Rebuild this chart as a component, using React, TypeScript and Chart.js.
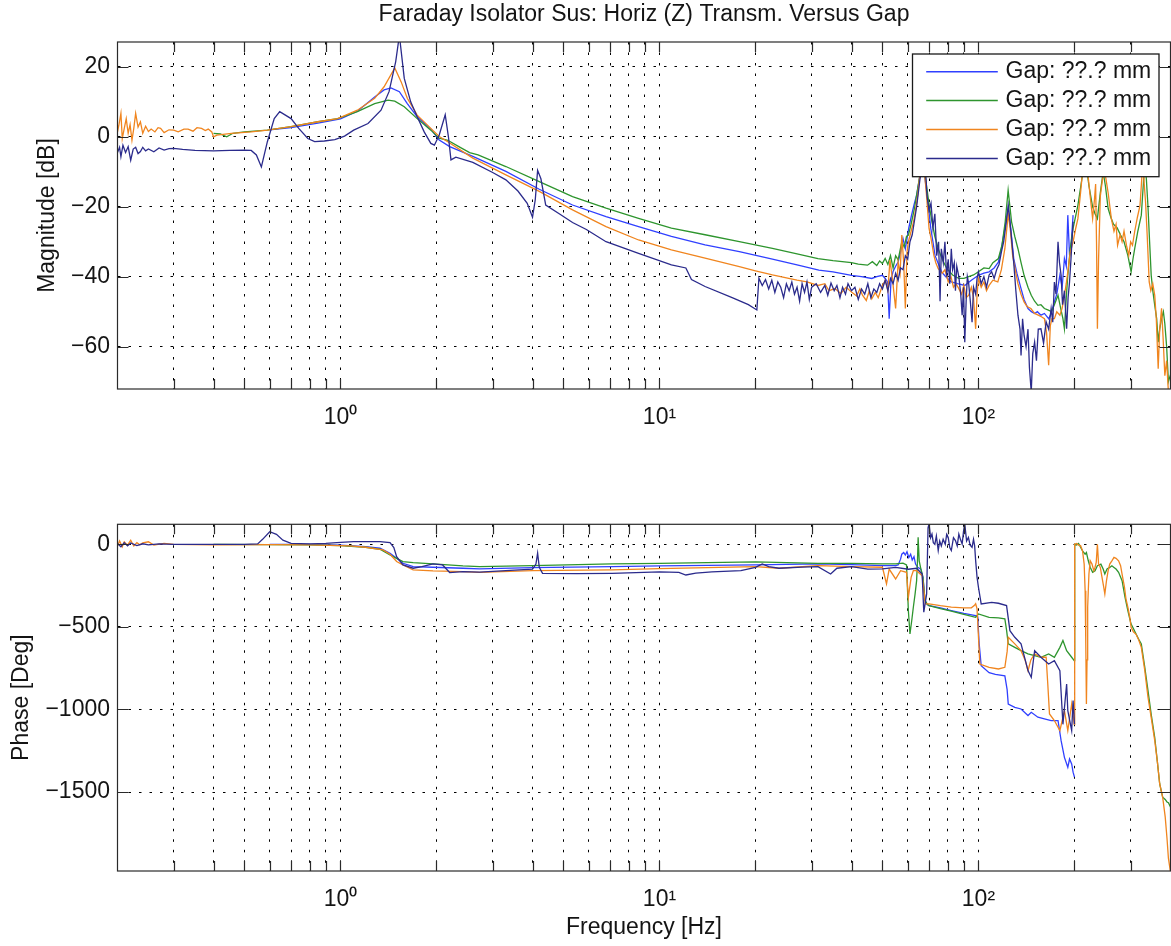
import React, { useEffect, useRef } from "react";
import { Chart, registerables } from "chart.js";

Chart.register(...registerables);

// ---------- text ----------
const TITLE = "Faraday Isolator Sus: Horiz (Z) Transm. Versus Gap";
const X_TITLE = "Frequency [Hz]";
const MAG_TITLE = "Magnitude [dB]";
const PHASE_TITLE = "Phase [Deg]";
const SERIES_LABELS = ["Gap: ??.? mm", "Gap: ??.? mm", "Gap: ??.? mm", "Gap: ??.? mm"];

// ---------- axes ----------
const X_MIN = 0.2;
const X_MAX = 400;
const X_GRID = [0.3, 0.4, 0.5, 0.6, 0.7, 0.8, 0.9, 1, 2, 3, 4, 5, 6, 7, 8, 9, 10, 20, 30, 40, 50, 60, 70, 80, 90, 100, 200, 300];
const X_TICK_LABELS: Record<string, string> = { "1": "10\u2070", "10": "10\u00b9", "100": "10\u00b2" };
const MAG_MIN = -72.1;
const MAG_MAX = 27.1;
const MAG_TICKS = [-60, -40, -20, 0, 20];
const PHASE_MIN = -1978;
const PHASE_MAX = 121;
const PHASE_TICKS = [-1500, -1000, -500, 0];

// ---------- magnitude data [Hz, dB] ----------
const MAG_BLUE: [number, number][] = [
  [0.6, 2.0], [0.7, 2.6], [0.85, 3.9], [1.0, 5.1], [1.13, 7.3], [1.28, 11.4], [1.37, 13.4], [1.44, 14.0], [1.53, 12.9], [1.62, 9.5],
  [1.74, 5.7], [1.92, 2.2], [2.04, -0.9], [2.2, -2.8], [2.6, -5.6], [3.3, -9.9], [4.2, -15.0], [5.34, -19.5], [6.8, -22.8], [8.6, -25.7],
  [10.9, -28.5], [13.9, -30.9], [17.8, -32.8], [22.6, -35.0], [27, -36.6], [31.6, -38.1], [35, -38.6], [40, -39.6], [43, -40], [46.3, -40.5],
  [48, -40], [50, -39.6], [51, -40.5], [51.9, -41.5], [52.5, -52], [53.2, -41], [54, -38.5], [55, -37], [56, -35.8], [57, -33],
  [58, -29.1], [59, -32], [59.5, -30], [60.5, -26], [61.7, -22.4], [63, -19], [64, -16.7], [65.3, -12], [66.6, -8], [67.5, -9],
  [68.2, -12.9], [69.5, -19], [70.9, -26.2], [72, -30], [73.1, -33.9], [75, -36.5], [76.6, -38.6], [79, -40], [82.2, -41.5], [86, -42],
  [90.6, -42.5], [95, -41], [100, -39.6], [104, -39], [108, -38.6], [112, -37.5], [115.5, -35.8], [118, -32], [121, -26.2], [124, -20.5],
  [126.5, -27], [129, -34.8], [132, -39], [136, -43.4], [139, -46.5], [143, -49.1], [146.5, -50], [150, -50.5], [153, -50], [157, -51],
  [161, -50.5], [166, -52], [169, -50.5], [173, -47.2], [176, -45], [180, -39.6], [183, -43], [186, -34.8], [188.5, -37], [190.6, -22.4],
  [193, -33.9], [195.5, -30], [198, -22.4],
];

const MAG_GREEN: [number, number][] = [
  [0.4, 1.0], [0.42, 0.8], [0.44, 0.0], [0.46, 1.0], [0.5, 1.4], [0.59, 1.9], [0.7, 2.9], [0.85, 4.3], [0.98, 5.2], [1.13, 7.2],
  [1.28, 9.5], [1.41, 10.5], [1.48, 10.2], [1.585, 8.6], [1.74, 5.2], [1.92, 1.9], [2.04, -0.4], [2.17, -1.0], [2.35, -2.8], [2.54, -4.5],
  [2.7, -5.2], [3.3, -8.5], [4.2, -12.8], [5.34, -17.1], [6.8, -20.4], [8.6, -23.3], [10.9, -26.1], [13.9, -28.0], [17.8, -30.0], [22.6, -31.9],
  [27, -33.5], [31.4, -34.8], [35, -35.4], [40, -36], [42, -36.4], [44.9, -36.7], [46.5, -35.7], [48, -36.8], [49, -35.5], [50, -36.2],
  [51, -34.8], [52, -36.5], [53, -34], [54, -37.5], [55, -34], [56, -35.2], [57.5, -30], [58.5, -31.5], [59.5, -28.5], [60.3, -28.1],
  [61.5, -25], [63, -20.5], [64.5, -14.8], [65.5, -11], [66.8, -8], [68, -11], [69, -15], [70.2, -20], [71.5, -24.3], [73, -28.5],
  [74.8, -32], [77, -35], [79.6, -37.7], [83, -39.5], [86.8, -40.5], [90, -40.5], [93.2, -40], [96.5, -39.5], [100, -38.6], [104, -37.5],
  [108, -37.7], [111, -36], [115.5, -34.8], [118.5, -31], [121.3, -24.3], [123.9, -15.3], [127, -24.3], [130, -28.5], [133, -32], [136, -36],
  [139, -39.6], [143, -43], [146.4, -45.3], [150, -47], [153.6, -48.2], [157, -48], [161, -49.1], [165, -49.5], [169.4, -50], [173, -48],
  [177.6, -45.3], [181, -49], [184, -52], [186, -54.9], [188.5, -46], [190.6, -39.6], [194, -32], [198, -26.2], [205, -19.6], [211, -12],
  [216, -6], [222, -14], [228, -20], [232, -22], [236, -23.4], [241, -16], [246, -10], [250, -14], [255, -20.5], [260, -23],
  [265, -25], [272, -26], [279, -28.1], [286, -30], [294, -33.9], [301, -38.6], [305, -35], [309, -31.9], [316, -27], [324, -22.4],
  [328, -15], [332, -8], [336, -12], [340, -20], [344, -30], [348, -39.6], [352, -44], [357, -48.2], [362, -52], [366, -58.7],
  [370, -55], [375, -52], [380, -50], [384, -53.5], [389, -60], [394, -70], [400, -68],
];

const MAG_ORANGE: [number, number][] = [
  [0.2, 1.4], [0.202, 3.3], [0.205, 6.7], [0.207, -0.5], [0.21, 2.4], [0.213, 5.2], [0.216, 1.0], [0.219, 3.5], [0.222, -1.0], [0.225, 2.5],
  [0.228, 6.7], [0.232, 2.8], [0.236, 4.3], [0.24, 1.0], [0.245, 3.0], [0.25, 1.5], [0.255, 2.2], [0.262, 1.4], [0.268, 2.6], [0.273, 2.4],
  [0.28, 1.2], [0.29, 2.0], [0.3, 1.9], [0.31, 1.4], [0.323, 2.2], [0.333, 2.2], [0.345, 1.6], [0.355, 2.6], [0.367, 2.4], [0.377, 1.8],
  [0.385, 2.2], [0.395, 1.4], [0.4, 0.0], [0.41, 0.5], [0.455, 1.0], [0.525, 1.4], [0.59, 1.9], [0.7, 2.9], [0.85, 4.3], [0.98, 5.2],
  [1.13, 7.6], [1.28, 11.0], [1.37, 14.3], [1.48, 19.7], [1.55, 15.7], [1.62, 11.0], [1.74, 6.2], [1.92, 2.4], [2.04, 0.1], [2.17, -1.4],
  [2.6, -6.1], [3.3, -10.9], [4.2, -15.6], [5.34, -20.9], [6.8, -25.7], [8.6, -29.5], [10.9, -32.3], [13.9, -34.7], [17.8, -37.1], [20, -38.3],
  [22.6, -39.5], [25, -40.3], [27, -41], [29, -41.5], [31.4, -42.5], [33, -42], [34, -44], [35.5, -43.4], [37, -44.8], [38.5, -43],
  [40, -44.4], [41.5, -45.5], [42.5, -43.5], [43.3, -45.3], [44.5, -46.8], [45.5, -44], [46.3, -46.3], [47.5, -44.5], [48.5, -46], [50, -42.5],
  [51.1, -41], [52, -44], [52.8, -35.2], [53.8, -41], [55, -49.1], [56, -35.8], [56.8, -39], [57.5, -28.1], [58.3, -36], [59, -49.1],
  [59.7, -33], [60.3, -30], [61.5, -27], [62.6, -24.3], [63.5, -21], [64.5, -16.7], [65.5, -11], [66.5, -7], [67.5, -9], [68.5, -15],
  [70, -26.2], [71, -29], [72.5, -33.9], [73.5, -36], [74.8, -37.7], [77, -39], [78.5, -38], [80.4, -41.5], [82, -40], [83.5, -43],
  [85, -42], [86.8, -43.4], [88.5, -45], [90, -42.5], [91.5, -46], [93.2, -45.3], [95, -43], [96.5, -46], [98, -54.9], [99, -45],
  [100, -40.5], [102, -43], [104, -41.5], [106, -44], [108, -42.5], [111, -41], [115, -41.5], [118, -38], [121, -32], [124, -22],
  [126, -27], [128, -34], [131, -39], [133, -42], [136, -45], [139, -47.2], [142, -48.5], [146, -49.1], [150, -50.5], [154, -51],
  [158, -51.5], [161, -52], [163.5, -56], [166, -65.3], [168, -54], [170, -52], [173, -52], [176, -50], [180, -51], [183, -49],
  [186, -45.3], [188.5, -42], [190.6, -38.6], [194, -33], [198, -30], [202, -26], [205, -23.4], [209, -16], [213, -8], [216, -6],
  [220, -10], [224, -17], [228, -23.4], [231, -18], [233, -13.5], [234.5, -30], [236, -54.9], [238, -35], [241, -17], [245, -12],
  [249, -10], [255, -16], [261, -23.4], [266, -27], [270, -25], [273, -31], [278, -28], [282, -30], [286, -27], [291, -31],
  [296, -33.9], [300, -30], [304, -31], [309, -27], [315, -23], [321, -19.6], [324, -14], [327, -8], [330, -12], [334, -18.5],
  [338, -28], [343, -41.5], [347, -44], [352, -42], [357, -45.3], [361, -52], [366, -66.3], [370, -55], [375, -49], [379, -57],
  [384, -68.3], [389, -64], [394, -73], [400, -74],
];

const MAG_NAVY: [number, number][] = [
  [0.2, -4.5], [0.203, -3.0], [0.205, -5.7], [0.208, -2.4], [0.212, -4.5], [0.216, -2.8], [0.22, -6.7], [0.224, -3.5], [0.228, -3.0], [0.232, -4.8],
  [0.236, -4.2], [0.24, -3.0], [0.245, -4.0], [0.25, -3.5], [0.26, -4.3], [0.27, -3.2], [0.28, -3.8], [0.29, -3.4], [0.3, -3.3], [0.32, -3.6],
  [0.35, -3.9], [0.4, -4.0], [0.45, -3.9], [0.5, -3.8], [0.525, -3.9], [0.545, -5.2], [0.565, -8.6], [0.59, -1.4], [0.62, 5.2], [0.645, 7.2],
  [0.7, 5.2], [0.74, 2.4], [0.79, -0.5], [0.83, -1.4], [0.89, -1.2], [0.96, -0.8], [1.03, 0.2], [1.1, 1.9], [1.22, 3.8], [1.34, 7.6],
  [1.42, 12.9], [1.49, 21.5], [1.53, 29], [1.585, 16.7], [1.66, 10.0], [1.74, 5.7], [1.83, 1.4], [1.92, -1.9], [1.97, -2.4], [2.04, 0.5],
  [2.13, 6.3], [2.18, 0.0], [2.22, -6.6], [2.3, -5.8], [2.6, -7.3], [3.0, -10.2], [3.3, -12.3], [3.6, -15.5], [3.85, -19], [4.0, -23],
  [4.08, -18], [4.15, -9.6], [4.25, -12], [4.4, -19.5], [4.85, -22], [5.34, -24.5], [5.9, -26.5], [6.8, -30], [8.6, -33.3], [10.9, -36.6],
  [12.1, -37.5], [12.6, -40.8], [13.9, -42.8], [16.9, -46], [19, -48], [20.2, -49.5], [20.5, -40.4], [21, -42.5], [21.5, -40.8], [22, -43.5],
  [22.5, -41], [23, -44.5], [23.5, -41.5], [24, -43], [24.5, -46], [25, -42], [25.5, -44], [26, -41.5], [26.5, -45], [27, -43],
  [27.5, -47], [28, -42], [28.5, -44.5], [29, -41.5], [29.5, -46.5], [30, -43], [31, -42], [32, -44.5], [33, -42.5], [33.7, -45.3],
  [34.5, -41.8], [35.3, -44], [36, -42.5], [36.8, -46], [37.5, -43], [38.3, -45], [39, -42], [40, -44], [41, -43], [42, -46.5],
  [43, -43.5], [44, -45], [45, -42], [46, -46], [47, -43.5], [48, -44.5], [49, -42], [50, -43.5], [51, -41], [52, -44],
  [53, -40.5], [54, -42], [55, -39], [56, -41], [57, -37.5], [58, -38], [59, -34], [60, -35], [61, -30], [62, -28],
  [63, -24], [64, -20], [65, -15], [66, -10], [67, -5], [67.5, -4], [68.3, -10], [69, -17], [70, -21], [71, -19],
  [72, -26], [73, -22], [74, -34], [75, -30], [75.8, -47], [76.5, -32], [77.6, -36], [78.5, -30], [79.5, -40], [80.4, -35],
  [81.3, -42], [82.2, -32], [83, -38], [84, -36], [84.7, -44], [85.5, -37], [86.8, -40], [88, -45], [88.9, -51], [89.8, -43],
  [90.6, -58.7], [91.5, -47], [92.3, -40], [93.2, -42], [94.3, -47], [95.5, -53], [96.5, -43], [98, -45], [99, -40.5], [100, -38.6],
  [102, -42], [104, -40], [106, -43], [108, -39.5], [110, -38.6], [112, -40.5], [114, -38], [116, -36.5], [118, -33], [120, -30],
  [122, -25], [124, -19.6], [125.5, -24], [127, -29.1], [129, -36], [131, -44], [133, -51], [135, -55], [136, -62.5], [137.5, -52],
  [139, -56.8], [141, -60], [143, -55], [144.5, -66], [146.4, -73], [148, -62], [150, -58.7], [152, -64], [154, -55], [157, -54.9],
  [160, -59], [163, -52.9], [166, -55], [169, -49.1], [171, -53], [173, -41.5], [175, -45], [177.6, -30], [179.5, -36], [181.6, -39.6],
  [183.5, -48], [186, -44], [189, -54.9], [191, -46], [193, -41.5], [195, -35], [198, -24.3],
];

// ---------- phase data [Hz, deg] ----------
const PH_BLUE: [number, number][] = [
  [0.6, 0], [0.8, -1], [1.0, -5], [1.2, -14], [1.33, -24], [1.43, -55], [1.5, -85], [1.57, -115], [1.69, -135], [1.95, -139],
  [2.42, -145], [2.73, -149], [4.0, -141], [7.1, -135], [10, -131], [20, -125], [31.4, -119], [40, -123], [50, -129], [55, -129],
  [56, -125], [57, -90], [57.5, -60], [58.3, -50], [59, -65], [59.7, -45], [60.5, -80], [61.3, -60], [62, -95], [62.8, -75],
  [63.5, -120], [64.5, -139], [66, -150], [67, -200], [68, -340], [69, -365], [70, -371], [76, -385], [82.2, -401], [90, -418],
  [98, -432], [99.5, -440], [100.5, -600], [102, -735], [108, -777], [113, -787], [121, -797], [123, -880], [124, -967], [130, -987],
  [136, -997], [143, -1037], [146.4, -1017], [153.6, -1047], [161, -1057], [169, -1067], [177.6, -1067], [181.6, -1189], [186, -1290], [190.6, -1350],
  [193, -1300], [196, -1330], [198, -1380], [200, -1410],
];

const PH_GREEN: [number, number][] = [
  [0.4, 0], [0.6, -2], [0.8, -3], [1.0, -8], [1.2, -18], [1.33, -30], [1.43, -65], [1.5, -85], [1.57, -105], [1.69, -111],
  [1.95, -119], [2.42, -131], [2.73, -135], [4.0, -129], [7.1, -119], [10, -115], [20, -107], [31.4, -115], [40, -115], [50, -119],
  [55, -119], [58, -114], [59.5, -125], [60.3, -402], [61, -543], [61.8, -460], [62.5, -381], [63.3, -300], [64, -220], [64.4, -100],
  [64.7, 42], [65.2, -100], [66, -150], [67, -200], [68, -340], [69, -361], [70, -371], [76, -390], [82.2, -405], [90, -425],
  [98, -442], [100, -422], [108, -442], [115.5, -446], [121, -452], [122.5, -520], [124, -603], [130, -624], [136, -644], [143, -664],
  [150, -674], [157, -684], [166, -664], [173, -684], [180, -624], [184, -583], [189, -644], [196, -684], [199.6, -704], [200.3, 0],
  [203, -5], [206, 5], [209, -18], [212, -40], [216, -60], [218, -50], [221, -100], [224, -139], [228, -170], [232, -160],
  [236, -130], [242, -120], [246, -150], [249, -180], [253, -150], [258, -140], [262, -130], [266, -140], [270, -150], [275, -170],
  [282, -220], [288, -320], [294, -402], [298, -450], [301, -483], [306, -510], [312, -543], [318, -575], [324, -604], [332, -740],
  [340, -886], [348, -1030], [357, -1170], [364, -1320], [370, -1451], [378, -1531], [385, -1545], [390, -1560], [394, -1565], [400, -1590],
];

const PH_ORANGE: [number, number][] = [
  [0.2, -10], [0.203, 20], [0.207, -15], [0.21, 15], [0.215, -5], [0.22, 25], [0.225, -10], [0.23, 10], [0.235, -3], [0.24, 8],
  [0.25, 15], [0.26, -5], [0.28, 5], [0.3, 0], [0.4, -3], [0.6, -2], [0.8, -3], [1.0, -8], [1.07, -10], [1.2, -18],
  [1.36, -34], [1.43, -60], [1.5, -104], [1.57, -125], [1.69, -155], [1.95, -161], [2.42, -165], [2.73, -170], [4.0, -159], [7.1, -155],
  [10, -147], [20, -135], [23.7, -145], [31.4, -129], [40, -135], [50, -139], [51.5, -240], [52.5, -150], [55, -210], [57, -160],
  [59.5, -170], [60.3, -321], [61.5, -200], [62.5, -160], [64, -160], [66.6, -190], [68.2, -361], [70, -361], [76, -372], [82.2, -381],
  [90, -385], [95, -385], [97, -371], [98, -360], [99, -391], [100, -560], [101, -725], [108, -745], [115.5, -755], [121, -745],
  [123, -650], [124, -563], [130, -603], [136, -644], [140, -700], [143, -765], [146, -700], [150, -664], [157, -684], [163, -684],
  [165, -850], [167, -1027], [173, -1067], [180, -1128], [186, -1007], [190.6, -1128], [196, -967], [199.6, -1090], [200.3, 0], [203, 5],
  [206, -5], [209, -8], [212, -40], [214.5, -120], [216, -281], [217, -600], [218, -967], [219, -700], [220, -380], [222, -180],
  [224, -99], [227, -120], [230, -160], [232, -139], [234, -110], [236, 0], [238, -120], [241, -140], [244, -200], [247, -260],
  [249, -301], [252, -220], [255, -160], [258, -120], [262, -100], [266, -79], [270, -85], [275, -100], [279, -130], [282, -180],
  [287, -260], [290, -330], [294, -381], [298, -440], [301, -503], [306, -530], [312, -545], [318, -580], [324, -624], [332, -760],
  [340, -926], [348, -1050], [357, -1189], [364, -1320], [370, -1451], [378, -1531], [385, -1650], [390, -1780], [394, -1900], [400, -1985],
];

const PH_NAVY: [number, number][] = [
  [0.2, 5], [0.205, -15], [0.21, 10], [0.215, -10], [0.22, 8], [0.23, -8], [0.24, 3], [0.25, -3], [0.27, 2], [0.3, 0],
  [0.4, 0], [0.5, 0], [0.55, 2], [0.57, 30], [0.6, 76], [0.63, 60], [0.66, 25], [0.7, 5], [0.8, 3], [0.9, 5],
  [1.0, 12], [1.1, 16], [1.2, 16], [1.33, 16], [1.43, 10], [1.47, -20], [1.5, -75], [1.57, -125], [1.69, -145], [1.8, -135],
  [1.95, -119], [2.09, -125], [2.2, -171], [2.42, -165], [2.73, -168], [3.3, -160], [4.0, -151], [4.1, -120], [4.15, -54], [4.2, -140],
  [4.3, -176], [5.5, -178], [7.1, -176], [10, -167], [11.5, -170], [12.1, -186], [13, -175], [14.6, -167], [18, -160], [20, -140],
  [21, -119], [22, -135], [23.7, -145], [28, -138], [31.4, -135], [34.4, -180], [36, -145], [40, -135], [45, -150], [50, -149],
  [55, -140], [60.3, -151], [64, -145], [66.6, -180], [67.4, -411], [68.8, -300], [69.5, 100], [70, 123], [70.8, 40], [71.5, 62],
  [72.2, 10], [73, 0], [73.8, 50], [74.8, -38], [75.6, 20], [76.5, -10], [77.5, 30], [78.7, 0], [79.5, 60], [80.4, 42],
  [81.3, -20], [82.2, -38], [83.5, 40], [84.7, 22], [85.8, -10], [86.8, 62], [87.8, 30], [88.9, 2], [89.8, 80], [90.6, 123],
  [91.8, 20], [93, 42], [94.2, -5], [95.5, -18], [96.5, 30], [97.3, -10], [98, -99], [99, -200], [100, -260], [102, -361],
  [110, -352], [115.5, -357], [122.5, -371], [125.5, -523], [130, -563], [136, -603], [143, -765], [146.4, -805], [150, -644], [157, -684],
  [166, -725], [173, -705], [180, -765], [184, -1090], [189, -846], [190.6, -1007], [196, -1128], [198, -946], [200, -1090],
];

// ---------- styles ----------
const FONT_FAMILY = "'Liberation Sans', Arial, Helvetica, sans-serif";
const FONT_SIZE = 23;
const TEXT_COLOR = "#141414";
const GRID_COLOR = "#000000";
const FRAME_COLOR = "#2a2a2a";
const SERIES_COLORS = ["#3040ff", "#2e952e", "#f0851f", "#2b2b8c"];
const SERIES_ORDER = [4, 3, 2, 1];

const fmtNum = (v: number) => (v < 0 ? "\u2212" + Math.abs(v) : String(v));

function toXY(arr: [number, number][]) {
  return arr.map(([x, y]) => ({ x, y }));
}

function makeDatasets(series: [number, number][][]) {
  return series.map((s, i) => ({
    label: SERIES_LABELS[i],
    data: toXY(s),
    borderColor: SERIES_COLORS[i],
    backgroundColor: SERIES_COLORS[i],
    borderWidth: 1.3,
    pointRadius: 0,
    tension: 0,
    fill: false,
    order: SERIES_ORDER[i],
  }));
}

const framePlugin = {
  id: "matlabFrame",
  afterDatasetsDraw(chart: any) {
    const { ctx, chartArea, scales } = chart;
    const { left, right, top, bottom } = chartArea;
    ctx.save();
    ctx.strokeStyle = FRAME_COLOR;
    ctx.lineWidth = 1.2;
    ctx.beginPath();
    for (const t of scales.x.ticks) {
      const px = Math.round(scales.x.getPixelForValue(t.value)) + 0.5;
      ctx.moveTo(px, bottom);
      ctx.lineTo(px, bottom - 10);
      ctx.moveTo(px, top);
      ctx.lineTo(px, top + 10);
    }
    for (const t of scales.y.ticks) {
      const py = Math.round(scales.y.getPixelForValue(t.value)) + 0.5;
      ctx.moveTo(left, py);
      ctx.lineTo(left + 11, py);
      ctx.moveTo(right, py);
      ctx.lineTo(right - 11, py);
    }
    ctx.stroke();
    ctx.strokeRect(left, top, right - left, bottom - top);
    ctx.restore();
  },
};

const legendPlugin = {
  id: "boxLegend",
  afterDatasetsDraw(chart: any) {
    const { ctx, chartArea } = chart;
    const w = 246.5;
    const h = 122.7;
    const x0 = chartArea.right - 11.5 - w;
    const y0 = chartArea.top + 12;
    ctx.save();
    ctx.fillStyle = "#ffffff";
    ctx.fillRect(x0, y0, w, h);
    ctx.strokeStyle = "#1a1a1a";
    ctx.lineWidth = 1.3;
    ctx.strokeRect(x0, y0, w, h);
    ctx.font = `${FONT_SIZE}px ${FONT_FAMILY}`;
    ctx.textBaseline = "middle";
    ctx.textAlign = "left";
    chart.data.datasets.forEach((ds: any, i: number) => {
      const y = y0 + 17.7 + i * 28.9;
      ctx.strokeStyle = ds.borderColor;
      ctx.lineWidth = 1.5;
      ctx.beginPath();
      ctx.moveTo(x0 + 13.7, y);
      ctx.lineTo(x0 + 85.3, y);
      ctx.stroke();
      ctx.fillStyle = TEXT_COLOR;
      ctx.fillText(ds.label, x0 + 93, y);
    });
    ctx.restore();
  },
};

const font = { family: FONT_FAMILY, size: FONT_SIZE, lineHeight: 1.2 };

function xScale(showTitle: boolean, height: number) {
  return {
    type: "logarithmic",
    min: X_MIN,
    max: X_MAX,
    afterBuildTicks: (s: any) => {
      s.ticks = X_GRID.map((v) => ({ value: v }));
    },
    afterFit: (s: any) => {
      s.height = height;
    },
    ticks: {
      autoSkip: false,
      maxRotation: 0,
      minRotation: 0,
      padding: 14.7,
      color: TEXT_COLOR,
      font,
      callback: (v: any) => X_TICK_LABELS[String(v)] ?? "",
    },
    grid: { color: GRID_COLOR, lineWidth: 1, drawTicks: false },
    border: { display: false, dash: [2.5, 8] },
    title: { display: showTitle, text: X_TITLE, color: TEXT_COLOR, font, padding: { top: 0, bottom: 4.2 } },
  };
}

function yScale(min: number, max: number, ticks: number[], title: string, titlePad: number) {
  return {
    type: "linear",
    min,
    max,
    afterBuildTicks: (s: any) => {
      s.ticks = ticks.map((v) => ({ value: v }));
    },
    afterFit: (s: any) => {
      s.width = 117.5;
    },
    ticks: {
      padding: 7.5,
      color: TEXT_COLOR,
      font,
      callback: (v: any) => fmtNum(Number(v)),
    },
    grid: { color: GRID_COLOR, lineWidth: 1, drawTicks: false },
    border: { display: false, dash: [2.5, 8] },
    title: { display: true, text: title, color: TEXT_COLOR, font, padding: { top: titlePad, bottom: 0 } },
  };
}

export default function App() {
  const topRef = useRef<HTMLCanvasElement | null>(null);
  const botRef = useRef<HTMLCanvasElement | null>(null);

  useEffect(() => {
    const top = new Chart(topRef.current as HTMLCanvasElement, {
      type: "line",
      data: { datasets: makeDatasets([MAG_BLUE, MAG_GREEN, MAG_ORANGE, MAG_NAVY]) as any },
      options: {
        animation: false,
        responsive: false,
        devicePixelRatio: 1,
        layout: { padding: { top: 0, left: 0, right: 0.5, bottom: 0 } },
        scales: {
          x: xScale(false, 51) as any,
          y: yScale(MAG_MIN, MAG_MAX, MAG_TICKS, MAG_TITLE, 34.2) as any,
        },
        plugins: {
          legend: { display: false },
          tooltip: { enabled: false },
          title: {
            display: true,
            text: TITLE,
            fullSize: false,
            color: TEXT_COLOR,
            font: { ...font, weight: "normal" as any },
            padding: { top: 1.2, bottom: 13.2 },
          },
        },
      },
      plugins: [framePlugin, legendPlugin],
    });
    const bot = new Chart(botRef.current as HTMLCanvasElement, {
      type: "line",
      data: { datasets: makeDatasets([PH_BLUE, PH_GREEN, PH_ORANGE, PH_NAVY]) as any },
      options: {
        animation: false,
        responsive: false,
        devicePixelRatio: 1,
        layout: { padding: { top: 84.3, left: 0, right: 0.5, bottom: 0 } },
        scales: {
          x: xScale(true, 75) as any,
          y: yScale(PHASE_MIN, PHASE_MAX, PHASE_TICKS, PHASE_TITLE, 8.2) as any,
        },
        plugins: {
          legend: { display: false },
          tooltip: { enabled: false },
          title: { display: false },
        },
      },
      plugins: [framePlugin],
    });
    return () => {
      top.destroy();
      bot.destroy();
    };
  }, []);

  return (
    <div style={{ position: "absolute", left: 0, top: 0, width: 1171, height: 946, background: "#ffffff" }}>
      <canvas ref={topRef} width={1171} height={440} style={{ position: "absolute", left: 0, top: 0, width: 1171, height: 440 }} />
      <canvas ref={botRef} width={1171} height={506} style={{ position: "absolute", left: 0, top: 440, width: 1171, height: 506 }} />
    </div>
  );
}
